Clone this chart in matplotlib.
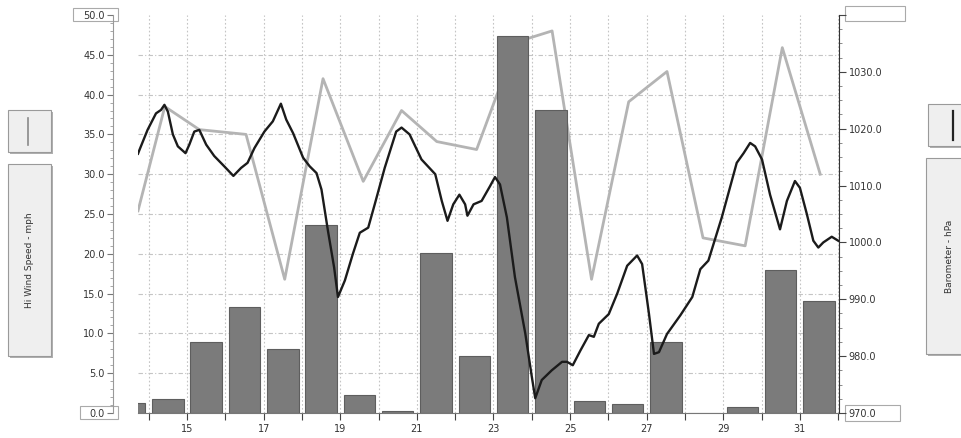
import matplotlib
matplotlib.use('Agg')
import matplotlib.pyplot as plt
from matplotlib.patches import Rectangle
from matplotlib.ticker import MultipleLocator
import numpy as np

# Barras diarias (eje izquierdo)
bar_days = [13, 14, 15, 16, 17, 18, 19, 20, 21, 22, 23, 24, 25, 26, 27, 28, 29, 30, 31]
bar_vals = [1.3, 1.7, 8.9, 13.3, 8.0, 23.6, 2.3, 0.3, 20.1, 7.1, 47.3, 38.1, 1.5, 1.1, 8.9, 0.0, 0.75, 18.0, 14.1]

# Hi Wind Speed (linea gris, eje izquierdo)
wind_day = [13.72, 14.42, 15.32, 16.54, 17.55, 18.55, 19.6, 20.6, 21.52, 22.56, 23.6,
            24.53, 25.56, 26.53, 27.53, 28.47, 29.57, 30.54, 31.53]
wind_mph = [25.4, 38.5, 35.6, 35.0, 16.8, 42.0, 29.1, 38.0, 34.1, 33.1, 46.6,
            48.0, 16.8, 39.1, 42.9, 22.0, 21.0, 45.9, 30.0]

# Barometro (linea negra, eje derecho)
baro_day = [13.72, 13.76, 13.97, 14.19, 14.32, 14.41, 14.50, 14.63, 14.76, 14.96, 15.06, 15.19,
            15.32, 15.50, 15.71, 15.97, 16.21, 16.41, 16.58, 16.76, 17.02, 17.24, 17.45,
            17.59, 17.77, 18.03, 18.20, 18.38, 18.51, 18.68, 18.84, 18.94, 19.12, 19.33,
            19.51, 19.73, 19.90, 20.16, 20.46, 20.60, 20.81, 21.12, 21.48, 21.65, 21.80,
            21.95, 22.11, 22.26, 22.32, 22.48, 22.69, 22.91, 23.04, 23.17, 23.35, 23.56,
            23.83, 24.00, 24.09, 24.26, 24.52, 24.79, 24.92, 25.07, 25.27, 25.49, 25.62,
            25.75, 26.01, 26.23, 26.49, 26.75, 26.88, 27.06, 27.19, 27.32, 27.53, 27.88,
            28.19, 28.40, 28.61, 28.96, 29.35, 29.53, 29.70, 29.83, 30.01, 30.22, 30.48,
            30.66, 30.87, 31.00, 31.18, 31.35, 31.48, 31.61, 31.83, 32.00]
baro_hpa = [1015.6, 1016.3, 1019.8, 1022.7, 1023.3, 1024.2, 1023.0, 1019.0, 1016.9, 1015.7, 1017.2, 1019.5,
            1019.8, 1017.2, 1015.2, 1013.4, 1011.7, 1013.1, 1014.0, 1016.6, 1019.5, 1021.3, 1024.4,
            1021.6, 1019.2, 1014.9, 1013.4, 1012.2, 1009.3, 1002.0, 995.6, 990.4, 993.3, 998.0,
            1001.7, 1002.6, 1006.7, 1013.1, 1019.5, 1020.2, 1019.0, 1014.6, 1012.0, 1007.3, 1003.8,
            1006.7, 1008.4, 1006.7, 1004.7, 1006.7, 1007.3, 1009.9, 1011.5, 1010.2, 1004.4, 993.9,
            984.0, 976.4, 972.6, 975.8, 977.5, 979.0, 979.0, 978.4, 981.0, 983.7, 983.4,
            985.7, 987.4, 991.0, 995.9, 997.7, 996.2, 987.4, 980.4, 980.7, 983.9, 987.2,
            990.4, 995.3, 996.8, 1004.4, 1014.0, 1015.7, 1017.5, 1016.9, 1014.6, 1008.4, 1002.3,
            1007.3, 1010.8, 1009.6, 1005.0, 1000.3, 999.1, 1000.0, 1001.0, 1000.3]

W, H = 961, 438
fig = plt.figure(figsize=(W / 100, H / 100), dpi=100)
fig.patch.set_facecolor('white')

x0, x1, ytop, ybot = 138, 839, 15, 413
ax = fig.add_axes([x0 / W, (H - ybot) / H, (x1 - x0) / W, (ybot - ytop) / H])
ax2 = ax.twinx()

# linea gris detras de las barras
ax.plot(wind_day, wind_mph, color='#b4b4b4', lw=2.0, zorder=1, clip_on=True)
ax.bar(np.array(bar_days) + 0.5, bar_vals, width=0.82, color='#7b7b7b',
       edgecolor='#5e5e5e', linewidth=0.8, zorder=2)
ax2.plot(baro_day, baro_hpa, color='#1b1b1b', lw=1.7, zorder=3)

ax.set_xlim(13.72, 32.02)
ax.set_ylim(0, 50)
ax2.set_ylim(970, 1040)

# rejilla
ax.set_axisbelow(True)
ax.set_xticks(np.arange(14, 33, 1))
ax.grid(axis='x', color='#c4c4c4', linestyle=(0, (1.5, 2)), linewidth=0.8, zorder=0)
for v in np.arange(5, 50, 5):
    ax.axhline(v, color='#c4c4c4', linestyle=(0, (4, 2, 1, 2)), linewidth=0.8, zorder=0)
ax.set_yticks(np.arange(0, 51, 5))

# eje x
ax.set_xticklabels([str(d) if d % 2 == 1 else '' for d in range(14, 33)])
ax.tick_params(axis='x', length=5, width=0.8, color='#444444', labelsize=7, pad=3,
               labelcolor='#333333')

# eje y izquierdo
for sp in ['top', 'right']:
    ax.spines[sp].set_visible(False)
ax.spines['left'].set_position(('outward', 18))
ax.spines['left'].set_color('#999999')
ax.spines['bottom'].set_color('#777777')
ax.set_yticklabels(['%.1f' % v for v in np.arange(0, 51, 5)])
ax.yaxis.set_minor_locator(MultipleLocator(1))
ax.tick_params(axis='y', which='major', length=4, width=0.8, color='#777777',
               labelsize=7, labelcolor='#333333', pad=2)
ax.tick_params(axis='y', which='minor', length=2, width=0.6, color='#999999')

# eje y derecho
for sp in ['top', 'left', 'bottom']:
    ax2.spines[sp].set_visible(False)
ax2.spines['right'].set_color('#333333')
r_ticks = np.arange(970, 1041, 10)
ax2.set_yticks(r_ticks)
ax2.set_yticklabels(['%.1f' % v if v != 1040 else '' for v in r_ticks])
ax2.yaxis.set_minor_locator(MultipleLocator(2.5))
ax2.tick_params(axis='y', which='major', length=5, width=0.8, color='#444444',
                labelsize=7, labelcolor='#333333', pad=2)
ax2.tick_params(axis='y', which='minor', length=2.5, width=0.6, color='#777777')

# elementos de interfaz (cajas y etiquetas)
ov = fig.add_axes([0, 0, 1, 1], zorder=-1)
ov.set_xlim(0, W)
ov.set_ylim(H, 0)
ov.axis('off')

def caja(x, y, w, h, fc='#efefef', ec='#9a9a9a'):
    ov.add_patch(Rectangle((x + 2, y + 2), w, h, facecolor='#b0b0b0', edgecolor='none'))
    ov.add_patch(Rectangle((x, y), w, h, facecolor=fc, edgecolor=ec, linewidth=0.8))

caja(8, 110, 43, 42)
ov.plot([28, 28], [118, 145], color='#8a8a8a', lw=1.2)
caja(8, 164, 43, 192)
ov.text(29, 260, 'Hi Wind Speed - mph', rotation=90, ha='center', va='center',
        fontsize=6.5, color='#333333')

caja(928, 104, 40, 42)
ov.plot([953, 953], [111, 140], color='#222222', lw=1.6)
caja(926, 158, 40, 196)
ov.text(950, 256, 'Barometer - hPa', rotation=90, ha='center', va='center',
        fontsize=6.5, color='#333333')

# cajas de etiquetas extremas
ov.add_patch(Rectangle((73, 8), 45, 13, facecolor='none', edgecolor='#aaaaaa', linewidth=0.8))
ov.add_patch(Rectangle((80, 406), 38, 13, facecolor='none', edgecolor='#aaaaaa', linewidth=0.8))
ov.add_patch(Rectangle((845, 405), 55, 16, facecolor='none', edgecolor='#aaaaaa', linewidth=0.8))
ov.add_patch(Rectangle((845, 6), 60, 15, facecolor='none', edgecolor='#aaaaaa', linewidth=0.8))

fig.savefig('out.png', dpi=100, facecolor='white')
